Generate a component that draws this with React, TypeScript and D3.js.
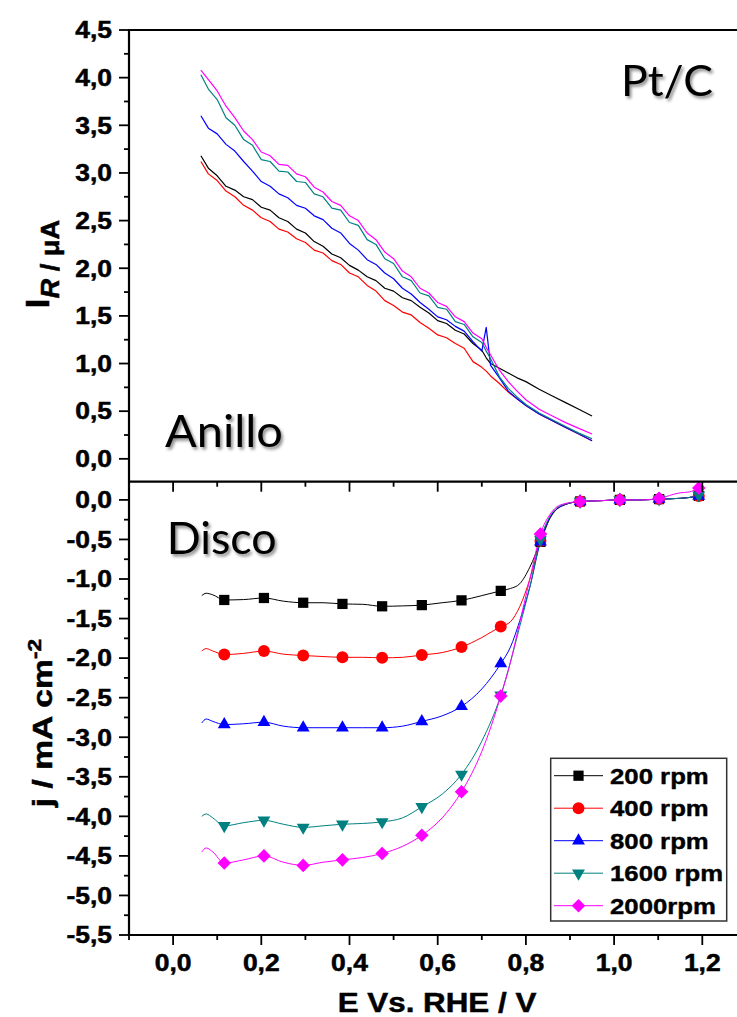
import React from 'react';
import * as d3 from 'd3';

const W = 737;
const H = 1017;

// ---------- series meta ----------
const seriesNames = ['200 rpm', '400 rpm', '800 rpm', '1600 rpm', '2000rpm'];
const seriesColors = ['#000000', '#ff0000', '#0000ff', '#008080', '#ff00ff'];
const seriesSymbols = ['square', 'circle', 'triangle', 'triangleDown', 'diamond'];

// ---------- ring (Anillo) data: E / V vs I_R / uA ----------
const ringE = [
  0.063, 0.08, 0.10, 0.12, 0.14, 0.16, 0.18, 0.20, 0.22, 0.24, 0.26, 0.28, 0.30, 0.32, 0.34, 0.36,
  0.38, 0.40, 0.42, 0.44, 0.46, 0.48, 0.50, 0.52, 0.54, 0.56, 0.58, 0.60, 0.62, 0.64, 0.66, 0.68,
  0.70, 0.71, 0.72, 0.74, 0.76, 0.78, 0.80, 0.83, 0.86, 0.89, 0.92, 0.95,
];
const ring200 = [
  3.18, 3.05, 2.97, 2.86, 2.82, 2.75, 2.72, 2.64, 2.61, 2.53, 2.49, 2.41, 2.37, 2.28, 2.23, 2.15,
  2.11, 2.03, 1.98, 1.91, 1.87, 1.79, 1.76, 1.69, 1.66, 1.59, 1.53, 1.45, 1.42, 1.35, 1.31, 1.21,
  1.14, 1.06, 1.00, 0.95, 0.90, 0.85, 0.81, 0.73, 0.66, 0.59, 0.52, 0.45,
];
const ring400 = [
  3.12, 2.99, 2.92, 2.81, 2.75, 2.66, 2.61, 2.53, 2.49, 2.41, 2.38, 2.31, 2.27, 2.19, 2.16, 2.08,
  2.04, 1.95, 1.91, 1.82, 1.76, 1.66, 1.61, 1.54, 1.51, 1.43, 1.37, 1.30, 1.27, 1.21, 1.16, 1.02,
  0.96, 0.92, 0.87, 0.79, 0.70, 0.63, 0.56, 0.47, 0.40, 0.33, 0.26, 0.19,
];
const ring800 = [
  3.60, 3.47, 3.41, 3.30, 3.23, 3.12, 3.02, 2.91, 2.86, 2.78, 2.74, 2.66, 2.63, 2.55, 2.51, 2.42,
  2.37, 2.26, 2.19, 2.09, 2.04, 1.95, 1.89, 1.79, 1.73, 1.64, 1.57, 1.49, 1.46, 1.39, 1.34, 1.23,
  1.13, 1.38, 0.98, 0.85, 0.71, 0.63, 0.56, 0.47, 0.40, 0.33, 0.26, 0.19,
];
const ring1600 = [
  4.03, 3.88, 3.77, 3.58, 3.50, 3.35, 3.29, 3.14, 3.12, 3.02, 3.01, 2.91, 2.90, 2.78, 2.75, 2.63,
  2.61, 2.48, 2.45, 2.30, 2.25, 2.10, 2.05, 1.91, 1.87, 1.74, 1.71, 1.59, 1.57, 1.44, 1.41, 1.28,
  1.22, 1.13, 1.05, 0.86, 0.74, 0.65, 0.57, 0.48, 0.41, 0.34, 0.27, 0.21,
];
const ring2000 = [
  4.08, 3.98, 3.86, 3.70, 3.58, 3.44, 3.35, 3.22, 3.18, 3.09, 3.08, 2.99, 2.96, 2.85, 2.80, 2.70,
  2.66, 2.55, 2.50, 2.37, 2.30, 2.17, 2.10, 1.97, 1.91, 1.79, 1.74, 1.64, 1.60, 1.49, 1.44, 1.32,
  1.26, 1.17, 1.09, 0.93, 0.81, 0.71, 0.62, 0.52, 0.45, 0.38, 0.32, 0.26,
];
const ringSeries = [ring200, ring400, ring800, ring1600, ring2000];

// ---------- disk (Disco) data: E / V vs j / mA cm-2 ----------
const diskE = [
  0.065, 0.075, 0.09, 0.116, 0.16, 0.206, 0.25, 0.295, 0.34, 0.384, 0.43, 0.474, 0.52, 0.564, 0.61, 0.654,
  0.70, 0.743, 0.765, 0.786, 0.809, 0.833, 0.855, 0.88, 0.923, 0.97, 1.013, 1.06, 1.102, 1.15, 1.17, 1.192,
];
const diskMarkerE = [0.116, 0.206, 0.295, 0.384, 0.474, 0.564, 0.654, 0.743, 0.833, 0.923, 1.013, 1.102, 1.192];
const disk200 = [
  -1.21, -1.18, -1.20, -1.265, -1.26, -1.24, -1.28, -1.30, -1.30, -1.315, -1.32, -1.345, -1.34, -1.33, -1.30, -1.27,
  -1.21, -1.15, -1.12, -1.06, -0.85, -0.53, -0.23, -0.08, -0.02, -0.01, 0.0, 0.0, 0.01, 0.02, 0.03, 0.05,
];
const disk400 = [
  -1.91, -1.88, -1.91, -1.955, -1.94, -1.91, -1.95, -1.967, -1.98, -1.99, -1.99, -1.996, -1.99, -1.96, -1.93, -1.86,
  -1.74, -1.60, -1.54, -1.35, -1.0, -0.52, -0.22, -0.08, -0.02, -0.01, 0.0, 0.0, 0.01, 0.02, 0.03, 0.05,
];
const disk800 = [
  -2.82, -2.77, -2.80, -2.84, -2.83, -2.81, -2.86, -2.88, -2.88, -2.88, -2.88, -2.88, -2.86, -2.80, -2.73, -2.61,
  -2.39, -2.07, -1.86, -1.53, -1.10, -0.53, -0.22, -0.08, -0.02, -0.01, 0.0, 0.0, 0.01, 0.02, 0.03, 0.05,
];
const disk1600 = [
  -4.00, -3.97, -4.02, -4.12, -4.08, -4.05, -4.10, -4.14, -4.12, -4.10, -4.09, -4.07, -4.02, -3.88, -3.72, -3.47,
  -3.05, -2.47, -2.05, -1.60, -1.10, -0.50, -0.20, -0.07, -0.02, -0.01, 0.0, 0.0, 0.01, 0.02, 0.03, 0.06,
];
const disk2000 = [
  -4.45, -4.40, -4.45, -4.59, -4.55, -4.50, -4.58, -4.62, -4.58, -4.55, -4.52, -4.47, -4.38, -4.24, -4.02, -3.69,
  -3.18, -2.48, -2.05, -1.55, -1.00, -0.43, -0.18, -0.06, -0.02, -0.01, 0.0, 0.0, 0.02, 0.09, 0.10, 0.15,
];
const diskSeries = [disk200, disk400, disk800, disk1600, disk2000];

// ---------- ticks ----------
const xMajor = [0, 0.2, 0.4, 0.6, 0.8, 1.0, 1.2];
const xMinor = [-0.1, 0.1, 0.3, 0.5, 0.7, 0.9, 1.1, 1.3];
const topYMajor = [0, 0.5, 1.0, 1.5, 2.0, 2.5, 3.0, 3.5, 4.0, 4.5];
const topYMinor = [0.25, 0.75, 1.25, 1.75, 2.25, 2.75, 3.25, 3.75, 4.25];
const botYMajor = [-5.5, -5.0, -4.5, -4.0, -3.5, -3.0, -2.5, -2.0, -1.5, -1.0, -0.5, 0];
const botYMinor = [-5.25, -4.75, -4.25, -3.75, -3.25, -2.75, -2.25, -1.75, -1.25, -0.75, -0.25];

// ---------- layout ----------
const LEFT = 129;
const TOP = 30;
const MID = 481.7;
const BOTTOM = 935;
const ARIAL = "'Liberation Sans', Arial, Helvetica, sans-serif";
const CAL = "Lato, 'Open Sans', 'Noto Sans', sans-serif";
const SX = 1.15;

const x = d3.scaleLinear().domain([-0.1, 1.3]).range([LEFT, 746.4]);
const yTop = d3.scaleLinear().domain([-0.24, 4.5]).range([MID, TOP]);
const yBot = d3.scaleLinear().domain([-5.5, 0.23]).range([BOTTOM, MID]);

const fmt = (v: number) => v.toFixed(1).replace('.', ',');

function markerPath(kind: string): string {
  if (kind === 'square') return d3.symbol(d3.symbolSquare, 105)() as string;
  if (kind === 'circle') return d3.symbol(d3.symbolCircle, 112)() as string;
  if (kind === 'triangle' || kind === 'triangleDown') return d3.symbol(d3.symbolTriangle, 72)() as string;
  return d3.symbol(d3.symbolSquare, 92)() as string;
}
function markerRot(kind: string): number {
  if (kind === 'triangleDown') return 180;
  if (kind === 'diamond') return 45;
  return 0;
}

export default function App() {
  const ringLine = d3
    .line<number>()
    .x((_, i) => x(ringE[i]))
    .y((d) => yTop(d));
  const diskLine = d3
    .line<number>()
    .x((_, i) => x(diskE[i]))
    .y((d) => yBot(d))
    .curve(d3.curveMonotoneX);

  const legendTop = 758.3;
  const legendRows = seriesNames.map((_, i) => 775.7 + i * 32.5);

  return (
    <svg
      width={W}
      height={H}
      viewBox={`0 0 ${W} ${H}`}
      style={{ position: 'absolute', left: 0, top: 0, background: '#fff', display: 'block' }}
    >
      <defs>
        <filter id="sh" x="-20%" y="-30%" width="150%" height="170%">
          <feDropShadow dx="2" dy="2.5" stdDeviation="1.6" floodColor="#000" floodOpacity="0.45" />
        </filter>
      </defs>
      <rect x={0} y={0} width={W} height={H} fill="#fff" />

      {/* ring curves */}
      <g fill="none" strokeWidth={1.2} strokeLinejoin="round">
        {ringSeries.map((s, k) => (
          <path key={k} d={ringLine(s) as string} stroke={seriesColors[k]} />
        ))}
      </g>

      {/* disk curves */}
      <g fill="none" strokeWidth={1}>
        {diskSeries.map((s, k) => (
          <path key={k} d={diskLine(s) as string} stroke={seriesColors[k]} />
        ))}
      </g>
      {diskSeries.map((s, k) => (
        <g key={k} fill={seriesColors[k]}>
          {diskE.map((e, i) =>
            diskMarkerE.includes(e) ? (
              <path
                key={i}
                d={markerPath(seriesSymbols[k])}
                transform={`translate(${x(e)},${yBot(s[i])}) rotate(${markerRot(seriesSymbols[k])})`}
              />
            ) : null
          )}
        </g>
      ))}

      {/* frame */}
      <g stroke="#000" strokeWidth={2.2} fill="none">
        <line x1={LEFT} x2={LEFT} y1={TOP - 1} y2={BOTTOM + 1} />
        <line x1={LEFT} x2={x(1.3)} y1={TOP} y2={TOP} />
        <line x1={LEFT} x2={x(1.3)} y1={MID} y2={MID} />
        <line x1={LEFT} x2={x(1.3)} y1={BOTTOM} y2={BOTTOM} />
        <line x1={x(1.3)} x2={x(1.3)} y1={TOP} y2={BOTTOM} />
      </g>

      {/* ticks */}
      <g stroke="#000" strokeWidth={1.8}>
        {xMajor.map((v) => (
          <g key={'xm' + v}>
            <line x1={x(v)} x2={x(v)} y1={MID} y2={MID + 10} />
            <line x1={x(v)} x2={x(v)} y1={BOTTOM} y2={BOTTOM + 10} />
          </g>
        ))}
        {xMinor.map((v) => (
          <g key={'xn' + v}>
            <line x1={x(v)} x2={x(v)} y1={MID} y2={MID + 5} />
            <line x1={x(v)} x2={x(v)} y1={BOTTOM} y2={BOTTOM + 5} />
          </g>
        ))}
        {topYMajor.map((v) => (
          <line key={'tm' + v} x1={LEFT - 10} x2={LEFT} y1={yTop(v)} y2={yTop(v)} />
        ))}
        {topYMinor.map((v) => (
          <line key={'tn' + v} x1={LEFT - 5} x2={LEFT} y1={yTop(v)} y2={yTop(v)} />
        ))}
        {botYMajor.map((v) => (
          <line key={'bm' + v} x1={LEFT - 10} x2={LEFT} y1={yBot(v)} y2={yBot(v)} />
        ))}
        {botYMinor.map((v) => (
          <line key={'bn' + v} x1={LEFT - 5} x2={LEFT} y1={yBot(v)} y2={yBot(v)} />
        ))}
      </g>

      {/* tick labels */}
      <g fontFamily={ARIAL} fontWeight="bold" fontSize={23} fill="#000" stroke="#000" strokeWidth={0.5}>
        {topYMajor.map((v) => (
          <text key={'tl' + v} transform={`translate(112,${yTop(v)}) scale(${SX},1)`} textAnchor="end" dy="0.36em">
            {fmt(v)}
          </text>
        ))}
        {botYMajor.map((v) => (
          <text key={'bl' + v} transform={`translate(112,${yBot(v)}) scale(${SX},1)`} textAnchor="end" dy="0.36em">
            {fmt(v)}
          </text>
        ))}
        {xMajor.map((v) => (
          <text key={'xl' + v} transform={`translate(${x(v)},971) scale(${SX},1)`} textAnchor="middle">
            {fmt(v)}
          </text>
        ))}
      </g>

      {/* axis titles */}
      <g fontFamily={ARIAL} fontWeight="bold" fill="#000" stroke="#000" strokeWidth={0.5}>
        <text transform="translate(437,1012) scale(1.12,1)" textAnchor="middle" fontSize={28}>
          E Vs. RHE / V
        </text>
        <text transform="translate(49,264) rotate(-90) scale(1.05,1)" textAnchor="middle" fontSize={26}>
          <tspan fontSize={33}>I</tspan>
          <tspan fontStyle="italic" dy={10}>R</tspan>
          <tspan> / μA</tspan>
        </text>
        <text transform="translate(52,723) rotate(-90) scale(1.2,1)" textAnchor="middle" fontSize={28}>
          <tspan>j / mA cm</tspan>
          <tspan fontSize={19} dy={-11}>-2</tspan>
        </text>
      </g>

      {/* panel labels */}
      <g fontFamily={CAL} fontSize={44} fill="#000" filter="url(#sh)">
        <text x={621} y={96} textLength={92} lengthAdjust="spacingAndGlyphs" fontSize={43}>
          Pt/C
        </text>
        <text x={165} y={446.7} textLength={118} lengthAdjust="spacingAndGlyphs">
          Anillo
        </text>
        <text x={166.7} y={554} textLength={110} lengthAdjust="spacingAndGlyphs">
          Disco
        </text>
      </g>

      {/* legend */}
      <rect x={550.7} y={legendTop} width={176} height={162.7} fill="#fff" stroke="#333" strokeWidth={1.5} />
      {seriesNames.map((name, i) => (
        <g key={name}>
          <line x1={554} x2={603} y1={legendRows[i]} y2={legendRows[i]} stroke={seriesColors[i]} strokeWidth={1} />
          <path
            d={markerPath(seriesSymbols[i])}
            fill={seriesColors[i]}
            transform={`translate(578.5,${legendRows[i]}) rotate(${markerRot(seriesSymbols[i])})`}
          />
          <text
            transform={`translate(610,${legendRows[i]}) scale(1.12,1)`}
            dy="0.36em"
            fontFamily={ARIAL}
            fontWeight="bold"
            fontSize={23}
            stroke="#000"
            strokeWidth={0.4}
          >
            {name}
          </text>
        </g>
      ))}
    </svg>
  );
}
